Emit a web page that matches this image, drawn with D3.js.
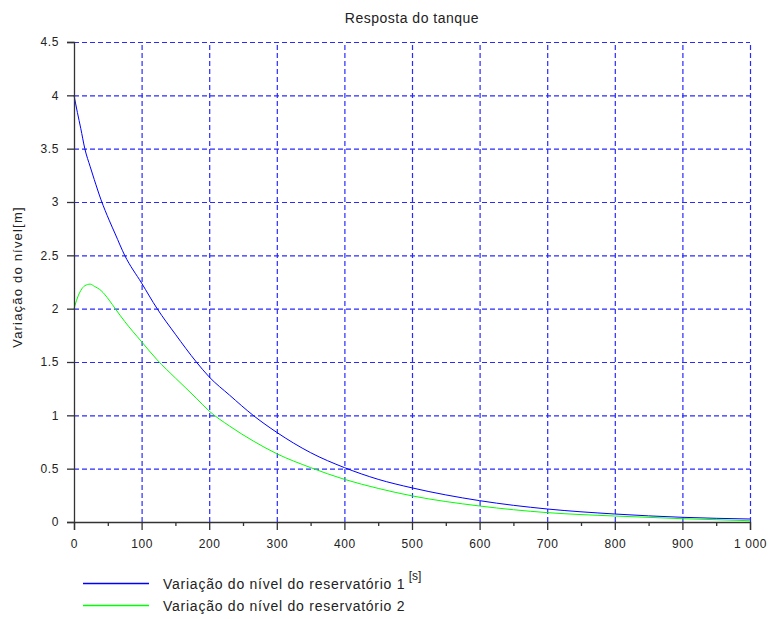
<!DOCTYPE html>
<html>
<head>
<meta charset="utf-8">
<script src="https://cdn.jsdelivr.net/npm/d3@7"></script>
<style>
  body { margin: 0; background: #fff; }
  svg { display: block; font-family: "Liberation Sans", Arial, sans-serif; }
</style>
</head>
<body>
<div id="canvas"></div>
<script>
// values
const timeS = [0, 5, 10, 16, 24, 30, 40, 52, 61, 75, 100, 123, 150, 181, 200, 230, 265, 300, 350, 400, 450, 500, 600, 700, 800, 900, 1000];
const level1 = [4.0, 3.84, 3.69, 3.5, 3.33, 3.21, 3.02, 2.83, 2.7, 2.5, 2.24, 2.0, 1.76, 1.5, 1.36, 1.19, 1.0, 0.84, 0.65, 0.51, 0.40, 0.32, 0.20, 0.122, 0.075, 0.044, 0.028];
const level2 = [2.0, 2.1, 2.17, 2.215, 2.23, 2.21, 2.17, 2.08, 2.0, 1.88, 1.69, 1.52, 1.35, 1.16, 1.04, 0.9, 0.76, 0.64, 0.51, 0.40, 0.315, 0.245, 0.15, 0.088, 0.056, 0.031, 0.012];
const xTicks = [0, 100, 200, 300, 400, 500, 600, 700, 800, 900, 1000];
const xTickLabels = ["0", "100", "200", "300", "400", "500", "600", "700", "800", "900", "1 000"];
const yTicks = [0, 0.5, 1, 1.5, 2, 2.5, 3, 3.5, 4, 4.5];
const yTickLabels = ["0", "0.5", "1", "1.5", "2", "2.5", "3", "3.5", "4", "4.5"];
const seriesNames = ["Variação do nível do reservatório 1", "Variação do nível do reservatório 2"];
const seriesColors = ["#0000ff", "#00ff00"];

const w = 774, h = 619;
const plotL = 74, plotR = 750, plotT = 42, plotB = 522;

const svg = d3.select("#canvas").append("svg").attr("width", w).attr("height", h);

const xScale = d3.scaleLinear().domain([0, 1000]).range([plotL, plotR]);
const yScale = d3.scaleLinear().domain([0, 4.5]).range([plotB, plotT]);

// grid
const grid = svg.append("g").attr("class", "grid");
grid.append("g").attr("transform", "translate(0," + plotB + ")")
  .call(d3.axisBottom(xScale).tickValues(xTicks.slice(1)).tickSize(-(plotB - plotT)).tickFormat(""));
grid.append("g").attr("transform", "translate(" + plotL + ",0)")
  .call(d3.axisLeft(yScale).tickValues(yTicks.slice(1)).tickSize(-(plotR - plotL)).tickFormat(""));
grid.selectAll(".domain").remove();
grid.selectAll("line").attr("stroke", "#2a2aff").attr("stroke-width", 1.2).attr("stroke-dasharray", "5,3");

// curves
const line = d3.line().x((d, i) => xScale(timeS[i])).y(d => yScale(d)).curve(d3.curveMonotoneX);
[level1, level2].forEach((s, k) => {
  svg.append("path").datum(s).attr("fill", "none").attr("stroke", seriesColors[k]).attr("stroke-width", 1).attr("d", line);
});

// axes
const xAxis = d3.axisBottom(xScale).tickValues(xTicks).tickSize(8).tickPadding(9)
  .tickFormat((d, i) => xTickLabels[i]);
const gx = svg.append("g").attr("transform", "translate(0," + plotB + ")").call(xAxis);
const minor = svg.append("g").attr("transform", "translate(0," + plotB + ")")
  .call(d3.axisBottom(xScale).tickValues(d3.range(50, 1000, 100)).tickSize(4).tickFormat(""));
minor.select(".domain").remove();

const yAxis = d3.axisLeft(yScale).tickValues(yTicks).tickSize(7).tickPadding(8)
  .tickFormat((d, i) => yTickLabels[i]);
const gy = svg.append("g").attr("transform", "translate(" + plotL + ",0)").call(yAxis);

[gx, gy, minor].forEach(g => {
  g.selectAll(".domain").attr("stroke", "#333").attr("stroke-width", 1.3);
  g.selectAll(".tick line").attr("stroke", "#333").attr("stroke-width", 1.3);
  g.selectAll("text").attr("fill", "#222").style("font-size", "12px").style("letter-spacing", "0.6px");
});

// title and axis labels
svg.append("text").text("Resposta do tanque").attr("x", (plotL + plotR) / 2).attr("y", 23)
  .attr("text-anchor", "middle").attr("fill", "#222").style("font-size", "14px").style("letter-spacing", "0.5px");
svg.append("text").text("[s]").attr("x", (plotL + plotR) / 2 + 3).attr("y", 580)
  .attr("text-anchor", "middle").attr("fill", "#222").style("font-size", "12px");
svg.append("text").text("Variação do nível[m]")
  .attr("transform", "translate(22," + ((plotT + plotB) / 2 - 5) + ") rotate(-90)")
  .attr("text-anchor", "middle").attr("fill", "#222").style("font-size", "13px").style("letter-spacing", "1.2px");

// legend
const legend = svg.append("g");
seriesNames.forEach((name, k) => {
  const ly = 583.5 + k * 22;
  legend.append("line").attr("x1", 83).attr("x2", 149).attr("y1", ly).attr("y2", ly)
    .attr("stroke", seriesColors[k]).attr("stroke-width", 1.3);
  legend.append("text").text(name).attr("x", 163).attr("y", ly + 5)
    .attr("fill", "#222").style("font-size", "14px").style("letter-spacing", "0.75px");
});
</script>
</body>
</html>
